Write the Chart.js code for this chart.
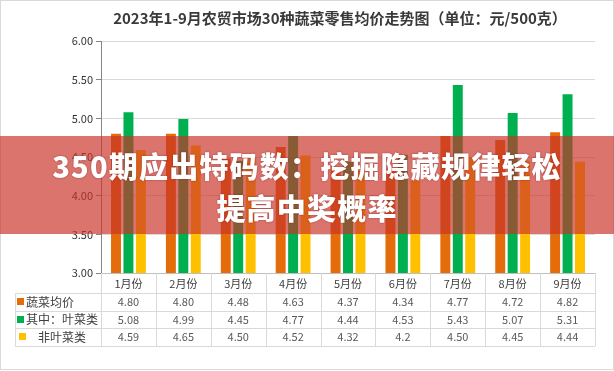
<!DOCTYPE html>
<html>
<head>
<meta charset="utf-8">
<script src="https://cdn.jsdelivr.net/npm/chart.js@4.4.0/dist/chart.umd.min.js"></script>
<style>
  body { margin: 0; background: #fff; }
  #wrap { position: relative; width: 614px; height: 371px; }
  #banner {
    position: absolute; left: 0; top: 136px; width: 614px; height: 98px;
    box-sizing: border-box; padding-top: 8px;
    background: rgba(200, 50, 40, 0.68);
    color: #fff; text-align: center;
    font-family: "Noto Sans CJK SC", sans-serif; font-weight: 900;
    font-size: 29px; line-height: 42px; letter-spacing: 1.2px;
    text-shadow: 0 0 2px rgba(90, 0, 0, 0.5);
  }
</style>
</head>
<body>
<div id="wrap">
  <canvas id="chart" width="614" height="371"></canvas>
  <div id="banner">350期应出特码数：挖掘隐藏规律轻松<br>提高中奖概率</div>
</div>
<script>
const titleText = "2023年1-9月农贸市场30种蔬菜零售均价走势图（单位：元/500克）";
const months = ["1月份", "2月份", "3月份", "4月份", "5月份", "6月份", "7月份", "8月份", "9月份"];
const seriesNames = ["蔬菜均价", "其中：叶菜类", "非叶菜类"];
const vegAvg = ["4.80", "4.80", "4.48", "4.63", "4.37", "4.34", "4.77", "4.72", "4.82"];
const leafy = ["5.08", "4.99", "4.45", "4.77", "4.44", "4.53", "5.43", "5.07", "5.31"];
const nonLeafy = ["4.59", "4.65", "4.50", "4.52", "4.32", "4.2", "4.50", "4.45", "4.44"];
const yMin = 3, yMax = 6, yStep = 0.5;

const colors = ["#E46C0A", "#00B050", "#FFC000"];
const seriesValues = [vegAvg, leafy, nonLeafy];

const FONT = "'Noto Sans CJK SC', 'Noto Sans', sans-serif";
const lineColor = "#d9d9d9";

// title, data table under the x axis, outer frame
const tablePlugin = {
  id: "dataTable",
  afterDraw(chart) {
    const ctx = chart.ctx;
    const x = chart.scales.x;
    const area = chart.chartArea;
    const tableLeft = 15;
    const rowTops = [area.bottom + 20, area.bottom + 38, area.bottom + 55];
    const rowH = [18, 17, 18];
    const tableBottom = rowTops[2] + rowH[2];
    const band = (x.right - x.left) / months.length;

    ctx.save();
    // title
    ctx.fillStyle = "#3a3a3a";
    ctx.font = "bold 15px " + FONT;
    ctx.textAlign = "center";
    ctx.textBaseline = "middle";
    ctx.fillText(titleText, 340, 18);

    // table grid
    ctx.strokeStyle = lineColor;
    ctx.lineWidth = 1;
    ctx.beginPath();
    for (let i = 0; i <= months.length; i++) {
      const px = Math.round(x.left + i * band) + 0.5;
      ctx.moveTo(px, area.bottom);
      ctx.lineTo(px, tableBottom);
    }
    ctx.moveTo(tableLeft + 0.5, rowTops[0]);
    ctx.lineTo(tableLeft + 0.5, tableBottom);
    rowTops.concat([tableBottom]).forEach((ry) => {
      ctx.moveTo(tableLeft, Math.round(ry) + 0.5);
      ctx.lineTo(x.right, Math.round(ry) + 0.5);
    });
    ctx.stroke();

    // rows
    seriesNames.forEach((name, r) => {
      const cy = rowTops[r] + rowH[r] / 2;
      const indent = r === 2 ? 2 : 0;
      ctx.fillStyle = colors[r];
      ctx.fillRect(17 + indent, Math.round(cy) - 4, 7, 7);
      ctx.fillStyle = "#404040";
      ctx.font = "12px " + FONT;
      ctx.textAlign = "left";
      ctx.fillText(name, r === 2 ? 38 : 26, cy);
      ctx.fillStyle = "#595959";
      ctx.font = "11px " + FONT;
      ctx.textAlign = "center";
      seriesValues[r].forEach((v, i) => {
        ctx.fillText(v, x.getPixelForValue(i), cy);
      });
    });

    // outer frame
    ctx.strokeStyle = "#d9d9d9";
    ctx.strokeRect(0.5, 0.5, chart.width - 1, chart.height - 2);
    ctx.restore();
  },
};

new Chart(document.getElementById("chart"), {
  type: "bar",
  data: {
    labels: months,
    datasets: seriesNames.map((name, i) => ({
      label: name,
      data: seriesValues[i],
      backgroundColor: colors[i],
      categoryPercentage: 0.68,
      barPercentage: 0.8,
    })),
  },
  options: {
    responsive: false,
    animation: false,
    layout: { padding: { left: 0, right: 19, top: 41, bottom: 78 } },
    plugins: {
      legend: { display: false },
      title: { display: false },
      tooltip: { enabled: false },
    },
    scales: {
      x: {
        grid: { display: false, drawTicks: false },
        border: { display: true, color: "#bfbfbf" },
        ticks: { color: "#404040", font: { size: 11, family: FONT }, padding: 4, maxRotation: 0 },
        afterFit(scale) { scale.height = 20; },
      },
      y: {
        min: yMin,
        max: yMax,
        grid: { color: lineColor, tickColor: "#868686", tickLength: 5 },
        border: { color: "#868686" },
        ticks: {
          stepSize: yStep,
          color: "#333333",
          padding: 3,
          font: { size: 11, family: FONT },
          callback: (v) => v.toFixed(2),
        },
        afterFit(scale) { scale.width = 101; },
      },
    },
  },
  plugins: [tablePlugin],
});
</script>
</body>
</html>
